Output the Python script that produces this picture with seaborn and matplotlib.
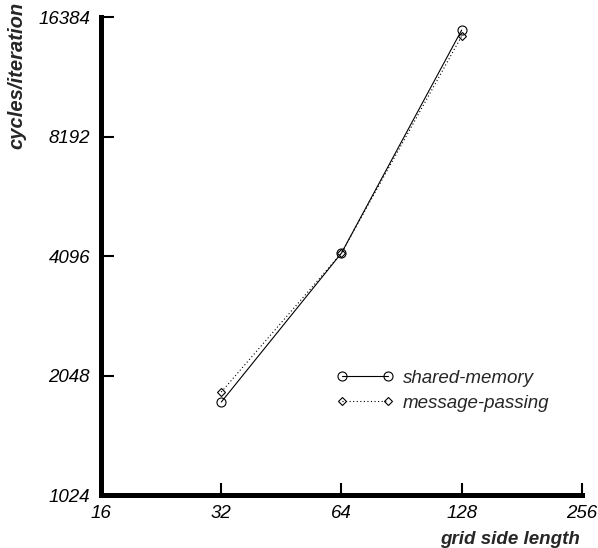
import numpy as np
import pandas as pd
import matplotlib
matplotlib.use('Agg')
import matplotlib.pyplot as plt
import seaborn as sns
from matplotlib.ticker import FixedLocator, FixedFormatter, NullLocator

# values
grid = [32, 64, 128]
shared_memory = [1756, 4168, 15200]
message_passing = [1861, 4168, 14680]

x_ticks = [16, 32, 64, 128, 256]
y_ticks = [1024, 2048, 4096, 8192, 16384]

sns.set_style('white')
plt.rcParams['font.family'] = ['Liberation Sans', 'DejaVu Sans']
plt.rcParams['font.style'] = 'italic'

fs = 13.5

fig = plt.figure(figsize=(5.98, 5.48), dpi=100)
ax = fig.add_axes([0.169, 0.0967, 0.804, 0.872])

df_sm = pd.DataFrame({'x': grid, 'y': shared_memory})
df_mp = pd.DataFrame({'x': grid, 'y': message_passing})

sns.lineplot(data=df_sm, x='x', y='y', ax=ax, color='k', lw=0.8,
             marker='o', ms=6.5, mfc='none', mec='k', mew=0.8,
             label='shared-memory', legend=False)
sns.lineplot(data=df_mp, x='x', y='y', ax=ax, color='k', lw=0.8,
             linestyle=(0, (1, 2.2)),
             marker='D', ms=4.5, mfc='none', mec='k', mew=0.8,
             label='message-passing', legend=False)

ax.set_xscale('log', base=2)
ax.set_yscale('log', base=2)
ax.set_xlim(16, 256)
ax.set_ylim(1024, 16384)

ax.xaxis.set_major_locator(FixedLocator(x_ticks))
ax.xaxis.set_major_formatter(FixedFormatter([str(v) for v in x_ticks]))
ax.yaxis.set_major_locator(FixedLocator(y_ticks))
ax.yaxis.set_major_formatter(FixedFormatter([str(v) for v in y_ticks]))
ax.xaxis.set_minor_locator(NullLocator())
ax.yaxis.set_minor_locator(NullLocator())

for s in ['top', 'right']:
    ax.spines[s].set_visible(False)
for s in ['left', 'bottom']:
    ax.spines[s].set_linewidth(3.6)
    ax.spines[s].set_color('k')
    ax.spines[s].set_capstyle('projecting')

ax.tick_params(axis='both', which='major', direction='in', length=9,
               width=1.5, color='k', labelsize=fs, labelcolor='k',
               bottom=True, left=True)
ax.tick_params(axis='y', pad=8)
ax.tick_params(axis='x', pad=7)
for t in ax.get_xticklabels() + ax.get_yticklabels():
    t.set_style('italic')

ax.set_xlabel('grid side length', fontsize=fs, fontweight='bold',
              fontstyle='italic', loc='right')
ax.xaxis.set_label_coords(0.996, -0.075)
ax.set_ylabel('cycles/iteration', fontsize=14.5, fontweight='bold',
              fontstyle='italic', loc='top')
ax.yaxis.set_label_coords(-0.155, 1.032)

ax.legend(loc='upper left', bbox_to_anchor=(0.49, 0.262), frameon=False,
          numpoints=2, handlelength=3.03, handletextpad=0.49,
          borderpad=0, borderaxespad=0, labelspacing=0.40,
          prop={'size': fs, 'style': 'italic'})

fig.savefig('out.png', dpi=100)
